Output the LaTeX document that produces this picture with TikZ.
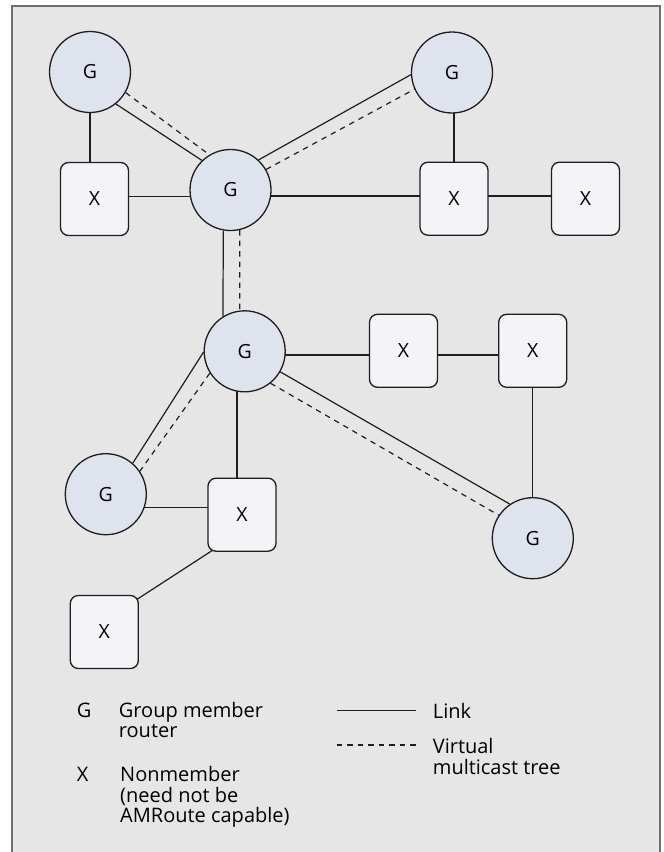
\documentclass[tikz,border=0pt]{standalone}
\usepackage{fontspec}
\setmainfont{Open Sans}
\usetikzlibrary{backgrounds}

\definecolor{panel}{HTML}{E6E6E6}
\definecolor{framec}{HTML}{6E6E6E}
\definecolor{linec}{HTML}{1E1E1E}
\definecolor{gfill}{HTML}{DFE3EE}
\definecolor{xfill}{HTML}{F4F4F8}

\begin{document}
\begin{tikzpicture}[x=1pt,y=-1pt,
  gnode/.style={circle, draw=linec, fill=gfill, line width=1.3pt,
    minimum size=81pt, inner sep=0pt, font=\fontsize{19.5}{20}\selectfont},
  xnode/.style={rectangle, rounded corners=8pt, draw=linec, fill=xfill,
    line width=1.3pt, minimum width=68pt, minimum height=73pt, inner sep=0pt,
    font=\fontsize{19.5}{20}\selectfont},
  link/.style={draw=linec, line width=1.2pt},
  vtree/.style={draw=linec, line width=1.2pt, dash pattern=on 5.5pt off 5pt},
  legtext/.style={inner sep=0pt, font=\fontsize{20}{20.5}\selectfont,
    align=left, text=black, anchor=base west}]

\useasboundingbox (0,0) rectangle (664,852);

% routers: G = group member, X = nonmember
\node[gnode] (gTL) at (90,72)      {G};
\node[gnode] (gC)  at (230.5,190)  {G};
\node[gnode] (gTR) at (452,72.5)   {G};
\node[xnode] (xL)  at (94.5,199)   {X};
\node[xnode] (xTR1) at (454,198.7) {X};
\node[xnode] (xTR2) at (585.5,198.7) {X};
\node[gnode] (gM)  at (244.7,351.3) {G};
\node[xnode] (xM1) at (403.5,350.8) {X};
\node[xnode] (xM2) at (532.7,350.8) {X};
\node[gnode] (gBL) at (105.8,494.2) {G};
\node[xnode] (xB)  at (242,514.7)  {X};
\node[gnode] (gBR) at (532.8,538.2) {G};
\node[xnode] (xBL) at (104.3,632)  {X};

% legend (multi-line texts are placed by the baseline of their last line)
\node[legtext] (lgG) at (76.7,717.3) {G};
\node[legtext] (lgGt) at (118.7,737.8) {Group member\\router};
\node[legtext] (lgX) at (76.7,781.7) {X};
\node[legtext] (lgXt) at (120,822.7) {Nonmember\\(need not be\\AMRoute capable)};
\node[legtext] (lgL) at (432.7,718.5) {Link};
\node[legtext] (lgV) at (432.7,774.3) {Virtual\\multicast tree};
\coordinate (linkA) at (336.7,710.7);
\coordinate (linkB) at (416,710.7);
\coordinate (treeA) at (336.7,745);
\coordinate (treeB) at (416,745);

\begin{pgfonlayer}{background}
  % panel
  \path[fill=panel, draw=framec, line width=2pt] (11.7,5.7) rectangle (660,880);

  % physical links
  \draw[link] (gTL) -- (gTL |- xL);
  \draw[link] ([yshift=2.8pt]xL.center) -- ([yshift=2.8pt]xL.center -| gC.center);
  \draw[link] ([yshift=2.7pt]xTR1.center) -- ([yshift=2.7pt]xTR1.center -| gC.center);
  \draw[link] ([yshift=2.7pt]xTR1.center) -- ([yshift=2.7pt]xTR2.center);
  \draw[link] (xTR1) -- (xTR1 |- gTR);
  \draw[link] (gTL.-51) -- (gC.134);
  \draw[link] (gC.47) -- (gTR.183.5);
  \draw[link] (gC.-100.5) -- (gM.122);
  \draw[link] ([yshift=-3.7pt]gM.center) -- ([yshift=-3.7pt]gM.center -| xM1.center);
  \draw[link] ([yshift=-4.2pt]xM1.center) -- ([yshift=-4.2pt]xM2.center);
  \draw[link] (xM2) -- (xM2 |- gBR);
  \draw[link] (gM.-30.5) -- (gBR.124.2);
  \draw[link] (gM.181) -- (gBL.49.8);
  \draw[link] ([xshift=-7.7pt]gM.center) -- ([xshift=-7.7pt]gM.center |- xB.center);
  \draw[link] ([yshift=-13.1pt]gBL.center) -- ([yshift=-13.1pt]gBL.center -| xB.center);
  \draw[link] ([xshift=7.3pt,yshift=2.9pt]xB.south west) -- ([xshift=-3.5pt,yshift=-5.5pt]xBL.north east);

  % virtual multicast tree
  \draw[vtree] (gTL.-30) -- (gC.121);
  \draw[vtree] (gC.30.5) -- (gTR.204.6);
  \draw[vtree] (gC.-77.6) -- (gM.97.6);
  \draw[vtree] (gM.-51.7) -- (gBR.146.4);
  \draw[vtree] (gM.212.7) -- (gBL.34.7);

  % legend strokes
  \draw[link] (linkA) -- (linkB);
  \draw[vtree] (treeA) -- (treeB);
\end{pgfonlayer}
\end{tikzpicture}
\end{document}
